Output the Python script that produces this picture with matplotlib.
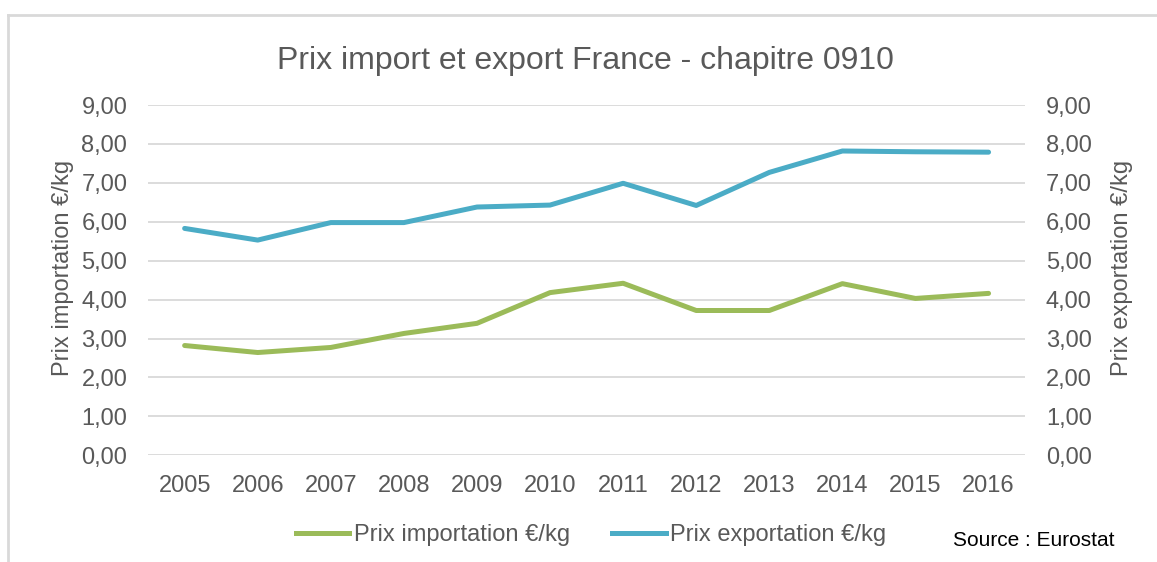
import numpy as np
import matplotlib
matplotlib.use("Agg")
import matplotlib.pyplot as plt
from matplotlib.lines import Line2D
from matplotlib.ticker import FuncFormatter

years = [2005, 2006, 2007, 2008, 2009, 2010, 2011, 2012, 2013, 2014, 2015, 2016]
prix_import = [2.82, 2.64, 2.77, 3.13, 3.39, 4.18, 4.42, 3.72, 3.72, 4.41, 4.03, 4.16]
prix_export = [5.83, 5.53, 5.98, 5.98, 6.38, 6.43, 6.99, 6.42, 7.27, 7.82, 7.80, 7.79]

GREEN = "#9BBB59"
BLUE = "#4BACC6"
GRAY = "#595959"
GRID = "#D9D9D9"

plt.rcParams["font.family"] = ["Liberation Sans", "DejaVu Sans"]

fig = plt.figure(figsize=(11.57, 5.62), dpi=100)
ax = fig.add_axes([0.128, 0.190, 0.758, 0.623])
x = np.arange(len(years))

ax.plot(x, prix_import, color=GREEN, lw=3.6, solid_capstyle="round")
ax2 = ax.twinx()
ax2.plot(x, prix_export, color=BLUE, lw=3.6, solid_capstyle="round")

fmt = FuncFormatter(lambda v, p: f"{v:.2f}".replace(".", ","))
for a in (ax, ax2):
    a.set_ylim(0, 9)
    a.set_yticks(np.arange(0, 10, 1))
    a.yaxis.set_major_formatter(fmt)
    a.set_xlim(-0.5, len(years) - 0.5)
    for s in a.spines.values():
        s.set_visible(False)
    a.tick_params(length=0, labelsize=17, labelcolor=GRAY, pad=15)

ax.set_xticks(x)
ax.set_xticklabels([str(y) for y in years])
ax.tick_params(axis="x", pad=14)
ax.grid(axis="y", color=GRID, lw=1.3)
ax.set_axisbelow(True)

ax.set_ylabel("Prix importation €/kg", fontsize=17, color=GRAY, labelpad=5, y=0.534)
ax2.set_ylabel("Prix exportation €/kg", fontsize=17, color=GRAY, labelpad=14, y=0.534)

fig.text(0.506, 0.892, "Prix import et export France - chapitre 0910",
         ha="center", va="center", fontsize=23, color=GRAY)

handles = [Line2D([], [], color=GREEN, lw=3.6), Line2D([], [], color=BLUE, lw=3.6)]
fig.legend(handles, ["Prix importation €/kg", "Prix exportation €/kg"],
           loc="center", bbox_to_anchor=(0.511, 0.048), ncol=2, frameon=False,
           fontsize=17, labelcolor=GRAY, handlelength=2.25, handletextpad=0.2,
           columnspacing=1.8)

fig.text(0.824, 0.039, "Source : Eurostat", ha="left", va="center",
         fontsize=15, color="black")

# cadre du graphique
fig.add_artist(Line2D([0.007, 1.0], [0.973, 0.973], color=GRID, lw=2))
fig.add_artist(Line2D([0.007, 0.007], [0.0, 0.973], color=GRID, lw=2))

fig.savefig("out.png", dpi=100)
